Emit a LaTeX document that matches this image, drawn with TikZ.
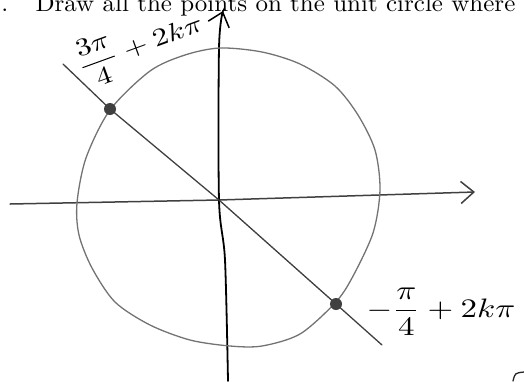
\documentclass[tikz,border=0pt]{standalone}
\usepackage{amsmath}
\usetikzlibrary{arrows.meta}

\begin{document}
\begin{tikzpicture}[x=1pt,y=-1pt,
  pencil/.style={line width=1.3pt,black!55,line cap=round},
  axis/.style={line width=1.5pt,black!75,line cap=round},
  tip/.style={-{Straight Barb[length=13pt,width=22pt,line width=1.5pt]}},
  dot/.style={circle,fill=black!75,inner sep=0pt,minimum size=12pt},
  hand/.style={font=\fontsize{10}{12}\selectfont,inner sep=0pt},
  print/.style={font=\fontsize{10}{12}\selectfont,inner sep=0pt,anchor=base west,xscale=2.5,yscale=2.4}
]
  \useasboundingbox (0,0) rectangle (524,381);
  % question text, cut at the top
  \node[print] (num) at (1,11) {.};
  \node[print] (task) at (35,11) {Draw all the points on the unit circle where};
  % axes
  \coordinate (O) at (219,200);
  \coordinate (xl) at (10,204);
  \coordinate (xr) at (475,192);
  \coordinate (yb) at (228,381);
  \coordinate (yt) at (223,11);
  \draw[axis,tip] (xl) -- (O) -- (xr);
  \draw[axis,tip,line width=1.8pt,black] plot[smooth] coordinates {(yb) (225,260) (O) (219,48) (yt)};
  % unit circle
  \draw[pencil] plot[smooth cycle] coordinates {(220,48) (262,52) (300,64) (335,86) (358,115) (375,150) (380,190)
    (373,233) (352,278) (335,303) (300,334) (262,346) (230,346) (190,340) (150,325) (115,302) (92,268)
    (79,235) (77,203) (86,158) (110,110) (150,71) (185,55)};
  % line through the two points
  \coordinate (a) at (63,64);
  \coordinate (b) at (382,345);
  \node[dot] (p1) at (110,109) {};
  \node[dot] (p2) at (336,304) {};
  \draw[pencil,black!75] (a) -- (p1.center) -- (O) -- (p2.center) -- (b);
  % labels
  \node[hand,rotate=20,xscale=3.1,yscale=2.5] (l1) at (140,45) {$\dfrac{3\pi}{4}+2k\pi$};
  \node[hand,xscale=3.3,yscale=2.67] (l2) at (441,312) {$-\dfrac{\pi}{4}+2k\pi$};
  % stroke in the corner
  \draw[pencil,black!85] (513,381) .. controls (515,373) .. (524,372);
\end{tikzpicture}
\end{document}
